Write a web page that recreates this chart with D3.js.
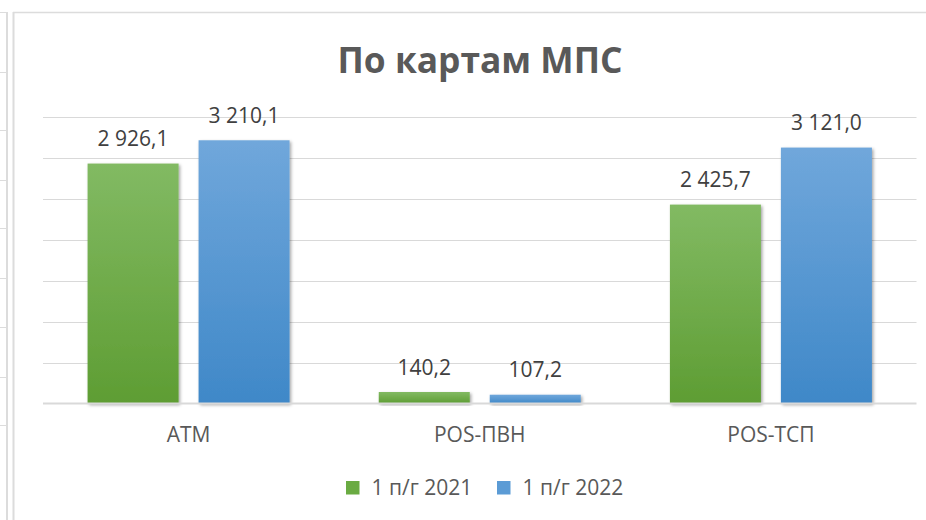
<!DOCTYPE html>
<html><head><meta charset="utf-8">
<script src="https://cdn.jsdelivr.net/npm/d3@7"></script>
<style>html,body{margin:0;padding:0;background:#fff;}svg{display:block;}</style>
</head><body>
<svg id="c" width="926" height="520"></svg>
<script>
const categories = ["ATM", "POS-ПВН", "POS-ТСП"];
const seriesNames = ["1 п/г 2021", "1 п/г 2022"];
const values2021 = [2926.1, 140.2, 2425.7];
const values2022 = [3210.1, 107.2, 3121.0];
const yTicks = [0, 500, 1000, 1500, 2000, 2500, 3000, 3500];
const title = "По картам МПС";

const series = [values2021, values2022];
const gradients = [["#82ba63", "#5e9d33"], ["#70a7db", "#3f88c8"]];
const legendColors = ["#6aab42", "#5b9bd5"];

const svg = d3.select("#c");
const font = "'Open Sans', sans-serif";
const fs = 21;

// outer sheet decoration
const deco = svg.append("g").attr("stroke", "#dcdcdc");
deco.append("line").attr("x1", 7).attr("x2", 7).attr("y1", 12).attr("y2", 520).attr("stroke-width", 2);
[12, 72, 130, 180, 228, 278, 327, 377, 425].forEach(y =>
  deco.append("line").attr("x1", 0).attr("x2", 7).attr("y1", y + 0.5).attr("y2", y + 0.5).attr("stroke-width", 1));
// chart border
deco.append("line").attr("x1", 13.5).attr("x2", 13.5).attr("y1", 12).attr("y2", 520).attr("stroke-width", 2);
deco.append("line").attr("x1", 13).attr("x2", 926).attr("y1", 12.5).attr("y2", 12.5).attr("stroke-width", 1.5);

const defs = svg.append("defs");
gradients.forEach((g, i) => {
  const lg = defs.append("linearGradient").attr("id", "g" + i)
    .attr("x1", 0).attr("y1", 0).attr("x2", 0).attr("y2", 1);
  lg.append("stop").attr("offset", "0%").attr("stop-color", g[0]);
  lg.append("stop").attr("offset", "100%").attr("stop-color", g[1]);
});
const f = defs.append("filter").attr("id", "sh").attr("x", "-20%").attr("y", "-20%").attr("width", "140%").attr("height", "140%");
f.append("feDropShadow").attr("dx", 1.5).attr("dy", 1.5).attr("stdDeviation", 1.8)
  .attr("flood-color", "#000").attr("flood-opacity", 0.35);

const x0 = d3.scaleBand().domain(categories).range([43, 916.5]).paddingInner(0).paddingOuter(0);
const groupW = 202;
const x1 = d3.scaleBand().domain(d3.range(series.length)).range([0, groupW]).paddingInner(0.18).paddingOuter(0);
const y = d3.scaleLinear().domain([0, 3500]).range([403.5, 116.5]);

// gridlines
svg.append("g").selectAll("line").data(yTicks.slice(1)).join("line")
  .attr("x1", 43).attr("x2", 916.5)
  .attr("y1", d => Math.round(y(d)) + 0.5).attr("y2", d => Math.round(y(d)) + 0.5)
  .attr("stroke", "#d9d9d9").attr("stroke-width", 1);

// bars
const fmt = v => d3.format(",.1f")(v).replace(/,/g, " ").replace(".", ",");
categories.forEach((c, ci) => {
  const gx = x0(c) + (x0.bandwidth() - groupW) / 2;
  series.forEach((s, si) => {
    const v = s[ci];
    const bx = gx + x1(si);
    svg.append("rect").attr("x", bx).attr("y", y(v)).attr("width", x1.bandwidth())
      .attr("height", y(0) - y(v)).attr("fill", `url(#g${si})`).attr("filter", "url(#sh)");
    svg.append("text").attr("x", bx + x1.bandwidth() / 2).attr("y", y(v) - 17.5)
      .attr("text-anchor", "middle").attr("font-family", font).attr("font-size", fs)
      .attr("fill", "#404040").text(fmt(v));
  });
});

// axis baseline
const xAxis = d3.axisBottom(x0).tickSize(0).tickPadding(0);
const ax = svg.append("g").attr("transform", `translate(0,${y(0)})`).call(xAxis);
ax.select(".domain").attr("stroke", "#d9d9d9").attr("stroke-width", 2).attr("d", "M43,0H916.5");
ax.selectAll("text").attr("y", 38.8).attr("dy", null).attr("font-family", font).attr("font-size", fs).attr("fill", "#595959");

// title
svg.append("text").attr("x", 480).attr("y", 73).attr("text-anchor", "middle")
  .attr("font-family", font).attr("font-weight", "bold").attr("font-size", 35)
  .attr("fill", "#595959").attr("textLength", 285).attr("lengthAdjust", "spacingAndGlyphs").text(title);

// legend
const legX = [346, 497];
seriesNames.forEach((n, i) => {
  svg.append("rect").attr("x", legX[i]).attr("y", 481).attr("width", 13.5).attr("height", 13.5).attr("fill", legendColors[i]);
  svg.append("text").attr("x", legX[i] + 25.5).attr("y", 495).attr("font-family", font).attr("font-size", fs)
    .attr("fill", "#595959").text(n);
});
</script>
</body></html>
